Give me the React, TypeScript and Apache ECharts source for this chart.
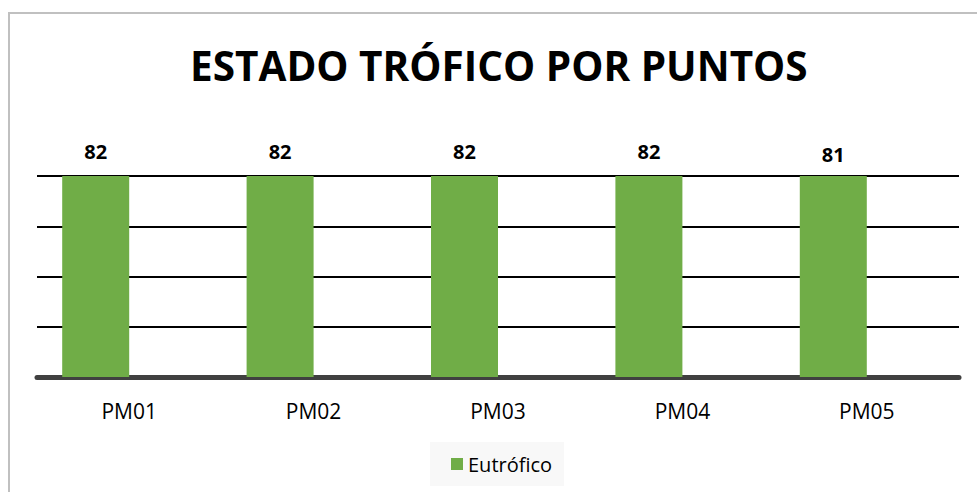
import React, { useEffect, useRef } from "react";
import * as echarts from "echarts";

const categories = ["PM01", "PM02", "PM03", "PM04", "PM05"];
const values = [82, 82, 82, 82, 81];
const emptyValues = [null, null, null, null, null];
const seriesName = "Eutrófico";
const titleText = "ESTADO TRÓFICO POR PUNTOS";
const yMin = 0;
const yMax = 80;
const yInterval = 20;

export default function App() {
  const ref = useRef<HTMLDivElement>(null);
  useEffect(() => {
    if (!ref.current) return;
    const chart = echarts.init(ref.current, null, { renderer: "svg" });
    const font = "'Open Sans', sans-serif";
    chart.setOption({
      animation: false,
      backgroundColor: "#ffffff",
      title: {
        text: titleText,
        left: 185,
        top: 40,
        textStyle: {
          fontFamily: font,
          fontWeight: "bold",
          fontSize: 40.5,
          color: "#000000",
        },
      },
      graphic: [
        {
          type: "rect",
          silent: true,
          shape: { x: 9, y: 13, width: 1200, height: 800 },
          style: { fill: "none", stroke: "#c0c0c0", lineWidth: 2 },
        },
      ],
      legend: {
        data: [seriesName],
        bottom: 6,
        left: 430,
        itemWidth: 12,
        itemHeight: 12,
        itemGap: 7,
        padding: [12, 12, 12, 21],
        backgroundColor: "#f8f8f8",
        textStyle: { fontFamily: font, fontSize: 20, color: "#000000" },
        icon: "rect",
      },
      grid: { left: 37, right: 18, top: 176, bottom: 115 },
      xAxis: [
        {
          type: "category",
          data: categories,
          axisLine: { show: true, lineStyle: { color: "#404040", width: 5 } },
          axisTick: { show: false },
          axisLabel: {
            fontFamily: font,
            fontSize: 21,
            color: "#000000",
            margin: 23,
          },
        },
        {
          type: "category",
          data: categories,
          show: false,
          position: "bottom",
        },
      ],
      yAxis: {
        type: "value",
        min: yMin,
        max: yMax,
        interval: yInterval,
        axisLine: { show: false },
        axisTick: { show: false },
        axisLabel: { show: false },
        splitLine: { show: true, lineStyle: { color: "#000000", width: 2 } },
      },
      series: [
        {
          name: seriesName,
          type: "bar",
          xAxisIndex: 0,
          data: values,
          barWidth: 67,
          barGap: 0,
          clip: true,
          itemStyle: { color: "#70ad47" },
          z: 3,
        },
        {
          name: "hidden",
          type: "bar",
          xAxisIndex: 0,
          data: emptyValues,
          barWidth: 67,
          barGap: 0,
          itemStyle: { color: "rgba(0,0,0,0)" },
        },
        {
          name: "labels",
          type: "bar",
          xAxisIndex: 1,
          data: values,
          barWidth: 67,
          barGap: 0,
          clip: false,
          silent: true,
          itemStyle: { color: "rgba(0,0,0,0)" },
          label: {
            show: true,
            position: "top",
            distance: 9,
            fontFamily: font,
            fontWeight: "bold",
            fontSize: 20,
            color: "#000000",
          },
          z: 4,
        },
        {
          name: "hidden2",
          type: "bar",
          xAxisIndex: 1,
          data: emptyValues,
          barWidth: 67,
          barGap: 0,
          itemStyle: { color: "rgba(0,0,0,0)" },
        },
      ],
    });
    return () => chart.dispose();
  }, []);
  return (
    <div
      ref={ref}
      style={{ position: "fixed", left: 0, top: 0, width: 977, height: 492 }}
    />
  );
}
